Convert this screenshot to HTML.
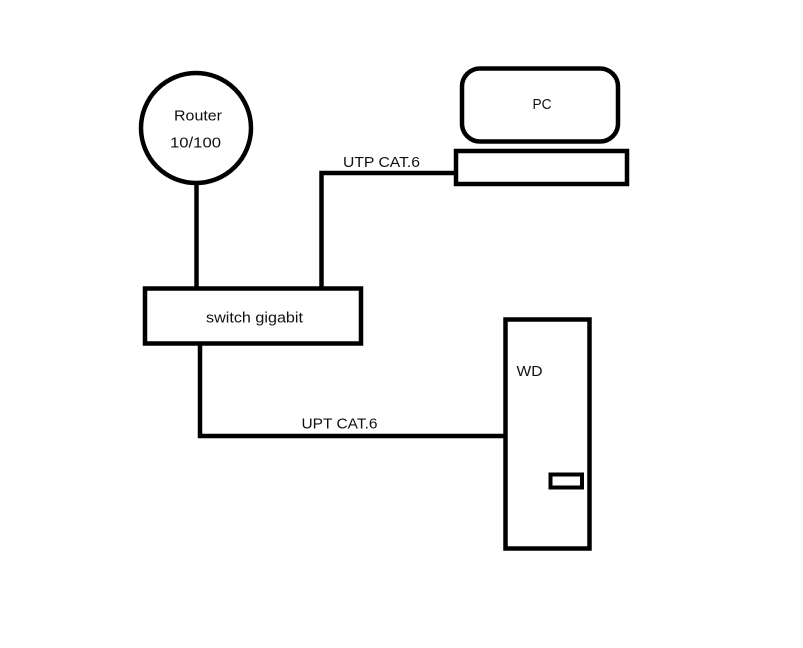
<!DOCTYPE html>
<html>
<head>
<meta charset="utf-8">
<style>
  html, body { margin: 0; padding: 0; background: #ffffff; }
  svg { display: block; }
  text { font-family: "Liberation Sans", "DejaVu Sans", sans-serif; font-size: 14.5px; fill: #111; }
</style>
</head>
<body>
<svg width="803" height="648" viewBox="0 0 803 648" xmlns="http://www.w3.org/2000/svg">
  <rect x="0" y="0" width="803" height="648" fill="#ffffff"/>

  <!-- Router circle -->
  <circle cx="196" cy="128" r="55" fill="none" stroke="#000" stroke-width="4.5"/>
  <text x="174" y="120.5" textLength="48" lengthAdjust="spacingAndGlyphs">Router</text>
  <text x="170" y="147.5" textLength="51" lengthAdjust="spacingAndGlyphs">10/100</text>

  <!-- Router to switch -->
  <line x1="196.5" y1="183" x2="196.5" y2="289" stroke="#000" stroke-width="4.5"/>

  <!-- PC monitor -->
  <rect x="462" y="68.5" width="156" height="73" rx="18" ry="18" fill="none" stroke="#000" stroke-width="4.5"/>
  <text x="532.5" y="109" textLength="19" lengthAdjust="spacingAndGlyphs">PC</text>

  <!-- PC keyboard/base -->
  <rect x="456" y="151" width="171" height="33" fill="none" stroke="#000" stroke-width="4.5"/>

  <!-- UTP line from switch to PC -->
  <polyline points="321.5,289 321.5,173 456,173" fill="none" stroke="#000" stroke-width="4.5"/>
  <text x="343" y="167" textLength="77" lengthAdjust="spacingAndGlyphs">UTP CAT.6</text>

  <!-- Switch -->
  <rect x="145" y="288.5" width="216" height="55" fill="none" stroke="#000" stroke-width="4.5"/>
  <text x="206" y="322.5" textLength="97" lengthAdjust="spacingAndGlyphs">switch gigabit</text>

  <!-- Switch to WD -->
  <polyline points="200,343 200,436 505,436" fill="none" stroke="#000" stroke-width="4.5"/>
  <text x="301.5" y="428.5" textLength="76" lengthAdjust="spacingAndGlyphs">UPT CAT.6</text>

  <!-- WD -->
  <rect x="505.5" y="319.5" width="84" height="229" fill="none" stroke="#000" stroke-width="4.5"/>
  <text x="516.5" y="376" textLength="26" lengthAdjust="spacingAndGlyphs">WD</text>
  <rect x="550.5" y="474.5" width="31.5" height="13" fill="none" stroke="#000" stroke-width="4"/>
</svg>
</body>
</html>
